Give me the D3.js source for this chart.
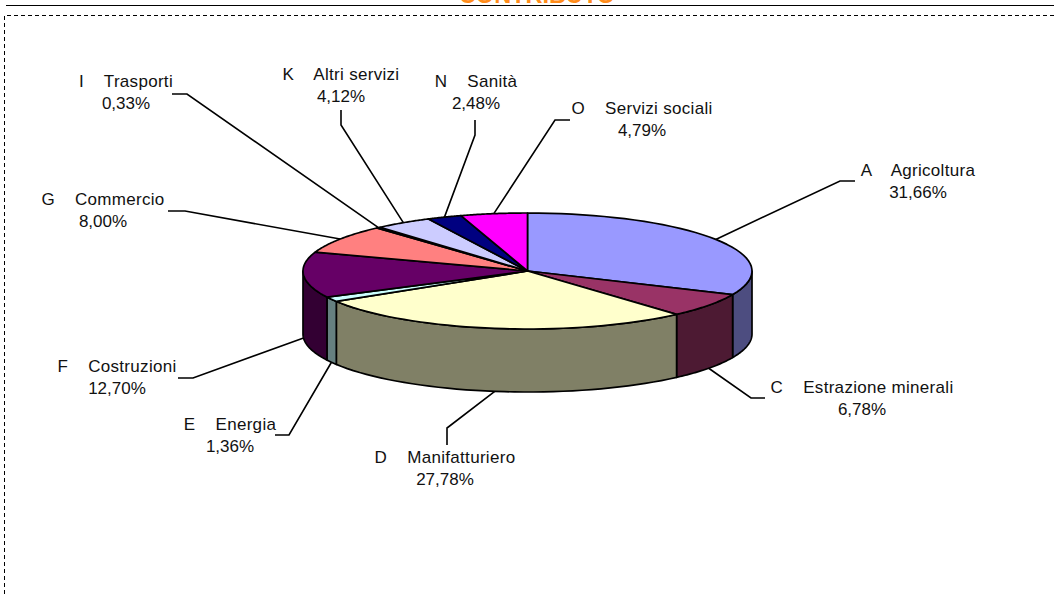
<!DOCTYPE html>
<html><head><meta charset="utf-8">
<style>html,body{margin:0;padding:0;background:#fff;overflow:hidden}text{font-family:"Liberation Sans",Arial,sans-serif;fill:#111}</style>
<script src="https://cdn.jsdelivr.net/npm/d3@7/dist/d3.min.js"></script>
</head><body><svg id="c" width="1054" height="597"></svg>
<script>
const categories=["A  Agricoltura","C  Estrazione minerali","D  Manifatturiero","E  Energia","F  Costruzioni","G  Commercio","I  Trasporti","K  Altri servizi","N  Sanità","O  Servizi sociali"];
const values=[31.66,6.78,27.78,1.36,12.70,8.00,0.33,4.12,2.48,4.79];
const valueLabels=["31,66%","6,78%","27,78%","1,36%","12,70%","8,00%","0,33%","4,12%","2,48%","4,79%"];
const topColors=["#9999FF","#993366","#FFFFCC","#CCFFFF","#660066","#FF8080","#0066CC","#CCCCFF","#000080","#FF00FF"];
const sideColors=["#4D4D80","#4D1A33","#808066","#668080","#330033","#804040","#003366","#666680","#000040","#800080"];
// layout only
const labelX=[918,862,445,230,117,103,126,341,476,642];
const labelY=[176,393,463,430,372,205,87,80,87,114];
const elbows=[[840,181],[751,398],[447,428],[289,435],[193,378],[185,211],[187,94],[341,125],[475,135],[555,120]];
const ends=[[855,181],[765,398],[447,445],[275,435],[178,378],[168,211],[172,94],[341,110],[475,120],[570,120]];

const cx=527.5,cy=271,rx=224.5,ry=58,depth=63;
const svg=d3.select("#c");
const X=d3.scaleLinear().domain([-1,1]).range([cx-rx,cx+rx]);
const Y=d3.scaleLinear().domain([-1,1]).range([cy-ry,cy+ry]);
const px=a=>X(Math.sin(a)),py=a=>Y(-Math.cos(a));
const pie=d3.pie().sort(null).value(d=>d)(values);
const line=d3.line();

svg.append("text").attr("x",537).attr("y",3).attr("text-anchor","middle").attr("font-size",23.5).attr("font-weight","bold").style("fill","#FF8C1A").text("CONTRIBUTO");
svg.append("line").attr("x1",6).attr("x2",1054).attr("y1",5.5).attr("y2",5.5).attr("stroke","#000").attr("stroke-width",1);
svg.append("path").attr("d","M1054,15.5H4.5V597").attr("fill","none").attr("stroke","#000").attr("stroke-dasharray","4 3");

// leaders
pie.forEach((s,i)=>{
  const m=(s.startAngle+s.endAngle)/2;
  const front=Math.cos(m)<0;
  const a=[px(m),py(m)+(front?depth:0)];
  svg.append("path").attr("d",line([a,elbows[i],ends[i]])).attr("fill","none").attr("stroke","#000").attr("stroke-width",1.6);
});
// walls
pie.forEach((s,i)=>{
  const a0=Math.max(s.startAngle,Math.PI/2),a1=Math.min(s.endAngle,3*Math.PI/2);
  if(a1<=a0)return;
  const as=d3.range(0,41).map(k=>a0+(a1-a0)*k/40);
  const top=as.map(a=>[px(a),py(a)]);
  const bot=as.map(a=>[px(a),py(a)+depth]).reverse();
  svg.append("path").attr("d",line(top.concat(bot))+"Z").attr("fill",sideColors[i]).attr("stroke","#000").attr("stroke-width",1.7).attr("stroke-linejoin","round");
});
// top faces
pie.forEach((s,i)=>{
  const as=d3.range(0,41).map(k=>s.startAngle+(s.endAngle-s.startAngle)*k/40);
  const pts=[[cx,cy]].concat(as.map(a=>[px(a),py(a)]));
  svg.append("path").attr("d",line(pts)+"Z").attr("fill",topColors[i]).attr("stroke","#000").attr("stroke-width",1.7).attr("stroke-linejoin","round");
});
// labels
categories.forEach((c,i)=>{
  const t=svg.append("text").attr("text-anchor","middle").attr("font-size",17);
  t.append("tspan").attr("x",labelX[i]).attr("y",labelY[i]).style("white-space","pre").style("letter-spacing","0.3px").text(c.replace("  ","    "));
  t.append("tspan").attr("x",labelX[i]).attr("y",labelY[i]+22).text(valueLabels[i]);
});
</script></body></html>
